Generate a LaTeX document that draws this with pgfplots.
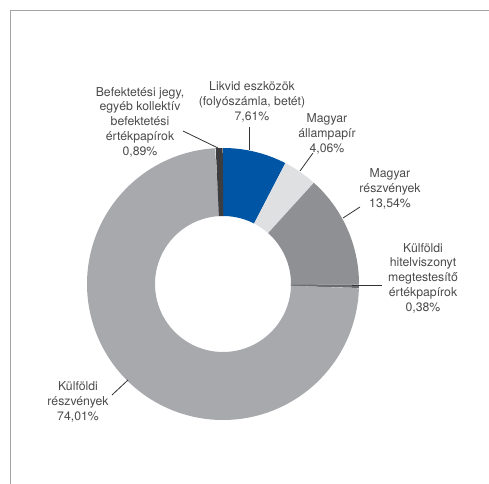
\documentclass[border=0pt]{standalone}
\usepackage{pgfplots}
\usepackage{pgfplotstable}
\pgfplotsset{compat=1.18}
\usepackage{fontspec}
\setmainfont{TeX Gyre Heros}

\definecolor{cLikvid}{HTML}{0055A5}
\definecolor{cAllam}{HTML}{DFE0E2}
\definecolor{cMreszv}{HTML}{8F9093}
\definecolor{cHitel}{HTML}{6B6C6F}
\definecolor{cKreszv}{HTML}{A8A9AD}
\definecolor{cBefj}{HTML}{3D3D3F}
\definecolor{labtext}{HTML}{4A4A4A}
\definecolor{framec}{HTML}{A5A5A5}

\tikzset{
    slice/.style={line width=68bp, line cap=butt, mark=none},
    lab/.style={align=center, inner sep=0pt, text=labtext,
        font=\fontsize{12.3}{14.8}\selectfont},
    lead/.style={draw=black!80, line width=0.8bp},
}

% shares in percent, clockwise from 12 o'clock
\pgfplotstableread{
pct
7.61
4.06
13.54
0.38
74.01
0.89
}\shares

\newcommand\total{100.49}
\xdef\cum{0}
\foreach \i in {0,...,5}{%
  \pgfplotstablegetelem{\i}{pct}\of\shares
  \pgfmathsetmacro\nc{\cum+\pgfplotsretval}%
  \pgfmathsetmacro\st{90-360*(\cum/\total)}%
  \pgfmathsetmacro\en{90-360*(\nc/\total)}%
  \expandafter\xdef\csname sa\i\endcsname{\st}%
  \expandafter\xdef\csname ea\i\endcsname{\en}%
  \xdef\cum{\nc}%
}
\newcommand\Sa[1]{\csname sa#1\endcsname}
\newcommand\Ea[1]{\csname ea#1\endcsname}

\begin{document}
\begin{tikzpicture}
\begin{axis}[
    x=1bp, y=1bp,
    xmin=0, xmax=489, ymin=0, ymax=484,
    scale only axis,
    hide axis,
    clip=false,
]
% frame
\draw[framec, line width=1bp] (axis cs:10,0) -- (axis cs:10,473) -- (axis cs:489,473);

% donut slices (centre 223,200; mid radius 102)
\addplot[slice, draw=cLikvid, samples=80, domain=\Ea{0}:\Sa{0}] ({223+102*cos(x)},{200+102*sin(x)});
\addplot[slice, draw=cAllam,  samples=60, domain=\Ea{1}:\Sa{1}] ({223+102*cos(x)},{200+102*sin(x)});
\addplot[slice, draw=cMreszv, samples=80, domain=\Ea{2}:\Sa{2}] ({223+102*cos(x)},{200+102*sin(x)});
\addplot[slice, draw=cHitel,  samples=5, domain=\Ea{3}:\Sa{3}] ({223+102*cos(x)},{200+102*sin(x)});
\addplot[slice, draw=cKreszv, samples=200, domain=\Ea{4}:\Sa{4}] ({223+102*cos(x)},{200+102*sin(x)});
\addplot[slice, draw=cBefj,   samples=5, domain=\Ea{5}:\Sa{5}] ({223+102*cos(x)},{200+102*sin(x)});

% leader lines
\draw[lead] (axis cs:183,353) -- (axis cs:218,336);
\draw[lead] (axis cs:249,357) -- (axis cs:249,334);
\draw[lead] (axis cs:313,331) -- (axis cs:300,313);
\draw[lead] (axis cs:360,277) -- (axis cs:343,266);
\draw[lead] (axis cs:352,199) -- (axis cs:382,199);
\draw[lead] (axis cs:112,89) -- (axis cs:128,104);

% labels
\node[lab] at (axis cs:140,362) {Befektetési jegy,\\egyéb kollektív\\befektetési\\értékpapírok\\0,89\%};
\node[lab] at (axis cs:252,382) {Likvid eszközök\\(folyószámla, betét)\\7,61\%};
\node[lab] at (axis cs:327,350) {Magyar\\állampapír\\4,06\%};
\node[lab] at (axis cs:390,295) {Magyar\\részvények\\13,54\%};
\node[lab] at (axis cs:423,206) {Külföldi\\hitelviszonyt\\megtestesítő\\értékpapírok\\0,38\%};
\node[lab] at (axis cs:78,82) {Külföldi\\részvények\\74,01\%};
\end{axis}
\pgfresetboundingbox
\useasboundingbox (0,0) rectangle (489bp,484bp);
\end{tikzpicture}
\end{document}
